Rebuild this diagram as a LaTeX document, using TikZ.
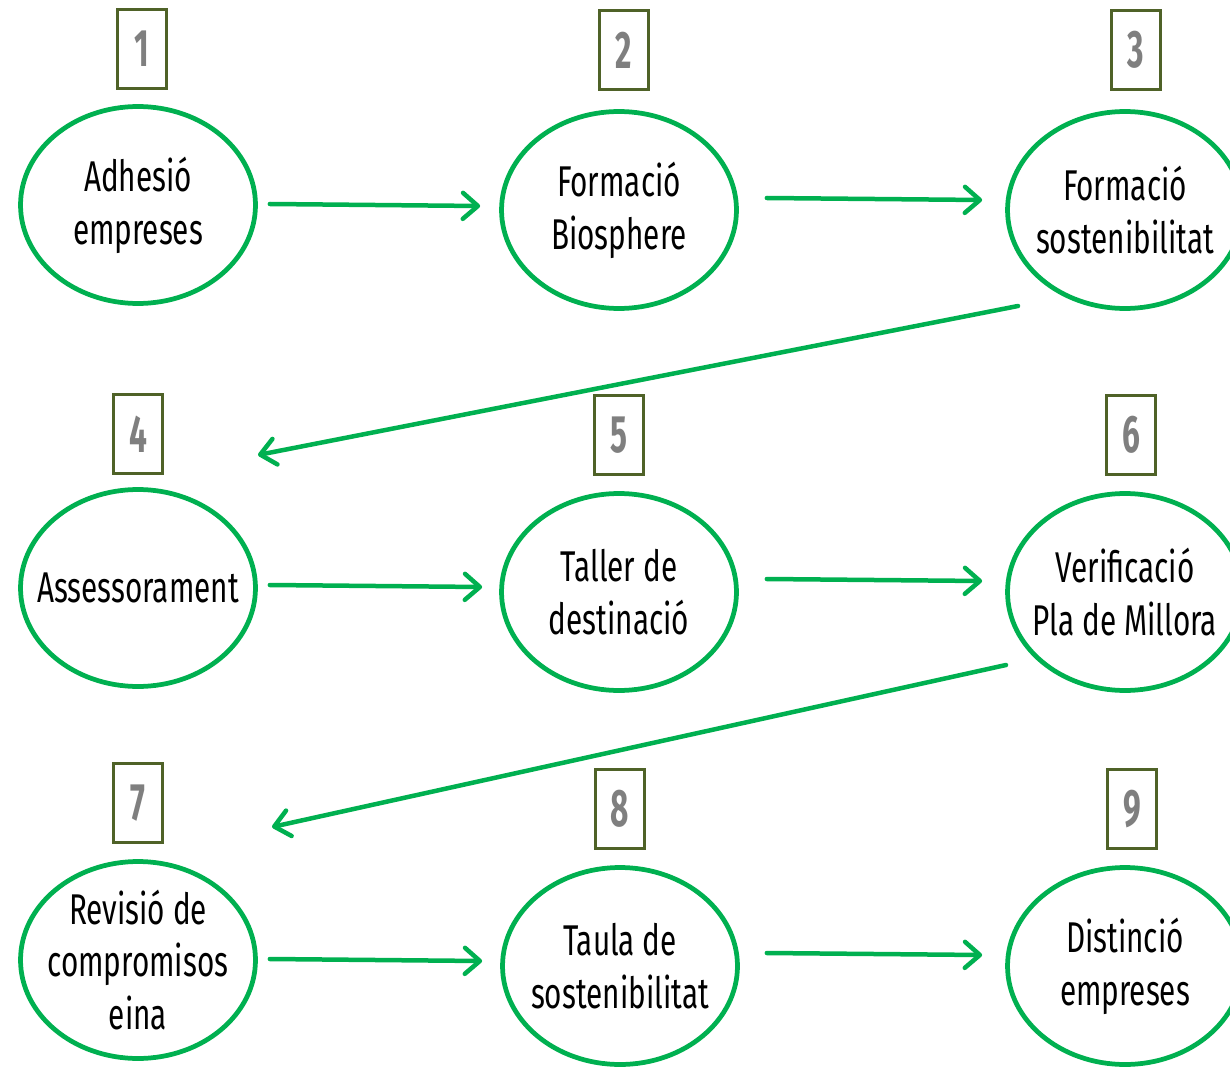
\documentclass[tikz,border=0pt]{standalone}
\usepackage{fontspec}
\setmainfont{Fira Sans}[FakeStretch=0.69]
\newfontfamily\numfont{Fira Sans}[FakeStretch=0.6]
\usetikzlibrary{shapes.geometric,arrows.meta}
\definecolor{verd}{HTML}{00B050}
\definecolor{oliva}{HTML}{4F6228}
\definecolor{gris}{HTML}{7F7F7F}

\begin{document}
\begin{tikzpicture}[x=0.02cm,y=-0.02cm,
    etapa/.style={ellipse,draw=verd,line width=0.095cm,minimum width=4.7cm,
      minimum height=3.94cm,inner sep=-3cm,align=center,
      font=\fontsize{24.5}{30}\selectfont},
    num/.style={draw=oliva,line width=0.055cm,minimum width=0.97cm,
      minimum height=1.59cm,inner sep=0pt,text=gris,
      font=\numfont\bfseries\fontsize{30}{30}\selectfont},
    fletxa/.style={draw=verd,line width=0.09cm,line cap=round,
      -{Straight Barb[length=0.3cm,width=0.52cm,line cap=round,line join=round]}}]
    \useasboundingbox (0,0) rectangle (1230,1067);
    \clip (0,0) rectangle (1230,1067);

    % Draw the steps
    \foreach \n/\x/\y/\txt in {1/138/205/{Adhesió\\empreses},
        2/619/210/{Formació\\Biosphere},
        3/1125/210/{Formació\\sostenibilitat},
        4/138/588/{Assessorament},
        5/619/592/{Taller de\\destinació},
        6/1125/592/{Verificació\\Pla de Millora},
        7/138/960/{Revisió de\\compromisos\\eina},
        8/620/966/{Taula de\\sostenibilitat},
        9/1125/966/{Distinció\\empreses}}
        \node[etapa] (e\n) at (\x,\y) {\txt};

    % Number boxes above each step
    \foreach \n/\x/\y in {1/142/49, 2/624/50, 3/1136/50,
        4/138/434, 5/619/435, 6/1131/435,
        7/138/803, 8/620/809, 9/1132/809}
        \node[num] (b\n) at (\x,\y) {\n};

    % Arrows between the steps
    \draw[fletxa] ([shift={(12,-1)}]e1.east) -- ([shift={(-19,-4)}]e2.west);
    \draw[fletxa] ([shift={(28,-12)}]e2.east) -- ([shift={(-23,-10)}]e3.west);
    \draw[fletxa] ([shift={(-107,96)}]e3.center) -- ([shift={(120,-133)}]e4.center);
    \draw[fletxa] ([shift={(12,-3)}]e4.east) -- ([shift={(-17,-5)}]e5.west);
    \draw[fletxa] ([shift={(28,-13)}]e5.east) -- ([shift={(-23,-11)}]e6.west);
    \draw[fletxa] ([shift={(-119,73)}]e6.center) -- ([shift={(134,-133)}]e7.center);
    \draw[fletxa] ([shift={(12,-1)}]e7.east) -- ([shift={(-18,-5)}]e8.west);
    \draw[fletxa] ([shift={(27,-13)}]e8.east) -- ([shift={(-23,-11)}]e9.west);
\end{tikzpicture}
\end{document}
